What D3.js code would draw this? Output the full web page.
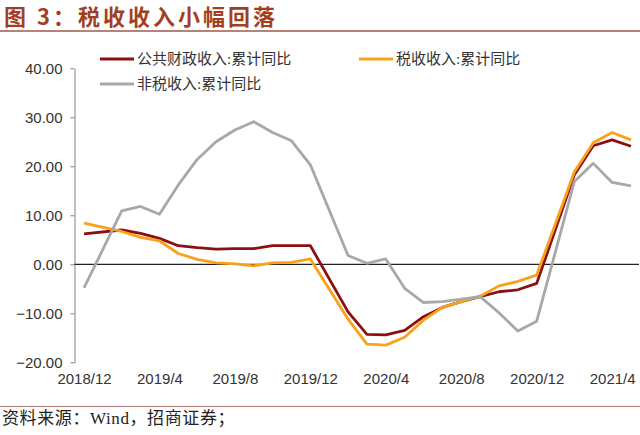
<!DOCTYPE html>
<html>
<head>
<meta charset="utf-8">
<script src="https://cdn.jsdelivr.net/npm/d3@7"></script>
<style>
  body { margin: 0; background: #fff; }
  svg { display: block; }
</style>
</head>
<body>
<svg width="640" height="435"></svg>
<script>
const svg = d3.select('svg');

// Data (January is not published, left as null)
const months = [
  '2018/12','2019/1','2019/2','2019/3','2019/4','2019/5','2019/6','2019/7','2019/8','2019/9','2019/10','2019/11','2019/12',
  '2020/1','2020/2','2020/3','2020/4','2020/5','2020/6','2020/7','2020/8','2020/9','2020/10','2020/11','2020/12',
  '2021/1','2021/2','2021/3','2021/4','2021/5'
];
const xTickLabels = ['2018/12','2019/4','2019/8','2019/12','2020/4','2020/8','2020/12','2021/4'];
const yTicks = [-20, -10, 0, 10, 20, 30, 40];

const publicRev = [6.2, null, 7.0, 6.3, 5.3, 3.8, 3.4, 3.1, 3.2, 3.2, 3.8, 3.8, 3.8,
  null, -9.7, -14.3, -14.4, -13.5, -10.7, -8.8, -7.6, -6.6, -5.6, -5.2, -3.9,
  null, 18.3, 24.2, 25.4, 24.1];
const taxRev = [8.4, null, 6.7, 5.5, 4.8, 2.2, 1.0, 0.3, 0.1, -0.3, 0.3, 0.4, 1.1,
  null, -11.2, -16.3, -16.5, -14.9, -11.4, -8.8, -7.6, -6.5, -4.4, -3.5, -2.2,
  null, 18.9, 24.8, 26.9, 25.4];
const nonTaxRev = [-4.8, null, 10.9, 11.8, 10.2, 16.2, 21.4, 25.0, 27.4, 29.1, 26.9, 25.2, 20.3,
  null, 1.8, 0.2, 1.1, -4.9, -7.8, -7.6, -7.1, -6.6, -9.9, -13.6, -11.6,
  null, 16.9, 20.6, 16.7, 16.0];

const seriesNames = ['公共财政收入:累计同比', '税收收入:累计同比', '非税收入:累计同比'];
const seriesColors = ['#8b1010', '#f8a21c', '#a8a8a8'];
const seriesValues = [publicRev, taxRev, nonTaxRev];

// Title
svg.append('text')
   .attr('x', 4).attr('y', 25)
   .attr('font-family', '"Noto Sans CJK SC", sans-serif')
   .attr('font-weight', 'bold')
   .attr('font-size', '22px')
   .attr('letter-spacing', '3px')
   .attr('fill', '#a33f1f')
   .text('图 3：税收收入小幅回落');
svg.append('line')
   .attr('x1', 0).attr('x2', 640).attr('y1', 31).attr('y2', 31)
   .attr('stroke', '#a0584a').attr('stroke-width', 1.5);

// Scales
const x = d3.scalePoint().domain(months).range([84, 631]);
const y = d3.scaleLinear().domain([-20, 40]).range([362.3, 68.3]);

// Y axis
const yAxis = svg.append('g')
   .attr('transform', 'translate(74.5,0)')
   .call(d3.axisLeft(y).tickValues(yTicks).tickSize(4).tickSizeOuter(0).tickPadding(8)
         .tickFormat(d3.format('.2f')));
yAxis.select('.domain').attr('stroke', '#808080');
yAxis.selectAll('.tick line').attr('stroke', '#808080');
yAxis.selectAll('.tick text')
   .attr('font-family', 'Arial, "Liberation Sans", sans-serif')
   .attr('font-size', '15px')
   .attr('fill', '#333');

// X labels
const xAxis = svg.append('g')
   .attr('transform', 'translate(0,372)')
   .call(d3.axisBottom(x).tickValues(xTickLabels).tickSize(0).tickPadding(0));
xAxis.select('.domain').remove();
xAxis.selectAll('.tick text')
   .attr('dy', '0.8em')
   .attr('font-family', 'Arial, "Liberation Sans", sans-serif')
   .attr('font-size', '15px')
   .attr('fill', '#333');

// Zero line
svg.append('line')
   .attr('x1', 74.5).attr('x2', 639)
   .attr('y1', y(0)).attr('y2', y(0))
   .attr('stroke', '#222').attr('stroke-width', 1.2);

// Lines
const lineGen = d3.line().x(d => x(d.m)).y(d => y(d.v));
seriesValues.forEach((vals, i) => {
  const pts = months.map((m, j) => ({ m, v: vals[j] })).filter(d => d.v != null);
  svg.append('path')
     .datum(pts)
     .attr('d', lineGen)
     .attr('fill', 'none')
     .attr('stroke', seriesColors[i])
     .attr('stroke-width', 2.8)
     .attr('stroke-linejoin', 'round');
});

// Legend
const legendPos = [[100, 59], [359, 59], [100, 84]];
seriesNames.forEach((name, i) => {
  const g = svg.append('g').attr('transform', 'translate(' + legendPos[i][0] + ',' + legendPos[i][1] + ')');
  g.append('line').attr('x1', 0).attr('x2', 34).attr('y1', 0).attr('y2', 0)
   .attr('stroke', seriesColors[i]).attr('stroke-width', 3);
  g.append('text').attr('x', 37).attr('y', 5)
   .attr('font-family', '"Liberation Serif", "Noto Sans CJK SC", serif')
   .attr('font-size', '15px')
   .attr('fill', '#333')
   .text(name);
});

// Footer
svg.append('line')
   .attr('x1', 0).attr('x2', 640).attr('y1', 406.5).attr('y2', 406.5)
   .attr('stroke', '#b07a72').attr('stroke-width', 1);
svg.append('text')
   .attr('x', 2).attr('y', 424)
   .attr('font-family', '"Liberation Serif", "Noto Sans CJK SC", serif')
   .attr('font-size', '17px')
   .attr('letter-spacing', '0.6px')
   .attr('fill', '#222')
   .text('资料来源：Wind，招商证券；');
</script>
</body>
</html>
